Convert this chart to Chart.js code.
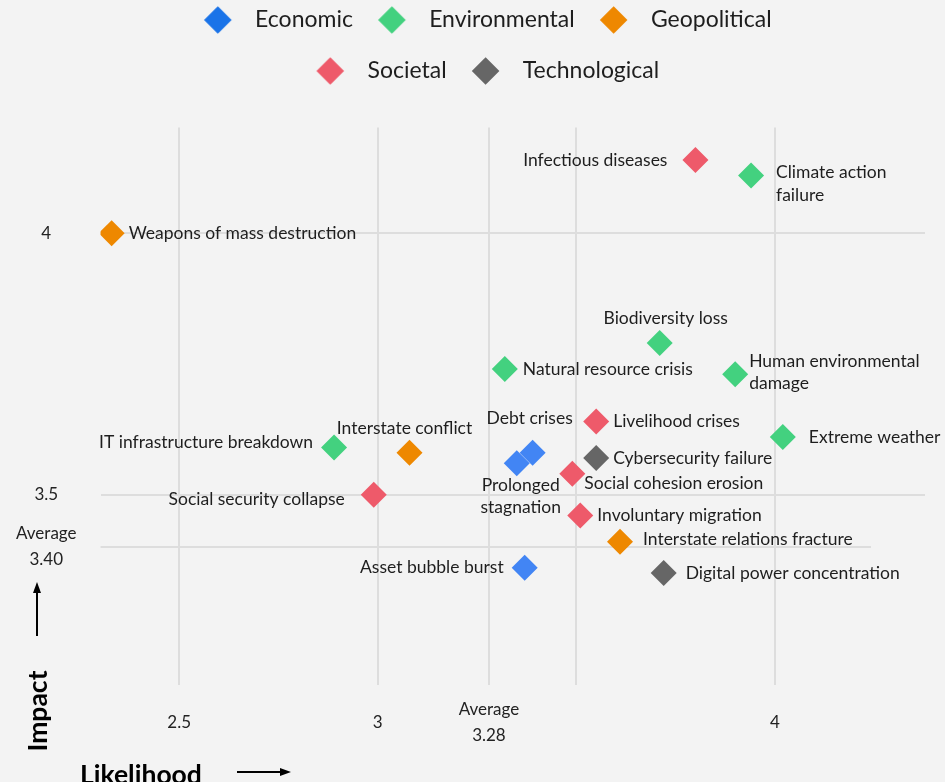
<!DOCTYPE html>
<html lang="en">
<head>
<meta charset="utf-8">
<title>Global risks: likelihood and impact</title>
<script src="https://cdn.jsdelivr.net/npm/chart.js@4.4.1/dist/chart.umd.min.js"></script>
<style>
  html, body { margin: 0; background: #f3f3f3; }
  #box { width: 945px; height: 782px; }
</style>
</head>
<body>
<div id="box"><canvas id="risks" width="945" height="782"></canvas></div>
<script>
// legend order
const categories = ['Economic', 'Environmental', 'Geopolitical', 'Societal', 'Technological'];

const economicRisks = ['Debt crises', 'Prolonged stagnation', 'Asset bubble burst'];
const economicLikelihood = [3.39, 3.35, 3.37];
const economicImpact = [3.58, 3.56, 3.36];

const environmentalRisks = ['Climate action failure', 'Biodiversity loss', 'Natural resource crisis',
  'Human environmental damage', 'Extreme weather', 'IT infrastructure breakdown'];
const environmentalLikelihood = [3.94, 3.71, 3.32, 3.90, 4.02, 2.89];
const environmentalImpact = [4.11, 3.79, 3.74, 3.73, 3.61, 3.59];

const geopoliticalRisks = ['Weapons of mass destruction', 'Interstate conflict', 'Interstate relations fracture'];
const geopoliticalLikelihood = [2.33, 3.08, 3.61];
const geopoliticalImpact = [4.00, 3.58, 3.41];

const societalRisks = ['Infectious diseases', 'Livelihood crises', 'Social cohesion erosion',
  'Social security collapse', 'Involuntary migration'];
const societalLikelihood = [3.80, 3.55, 3.49, 2.99, 3.51];
const societalImpact = [4.14, 3.64, 3.54, 3.50, 3.46];

const technologicalRisks = ['Cybersecurity failure', 'Digital power concentration'];
const technologicalLikelihood = [3.55, 3.72];
const technologicalImpact = [3.57, 3.35];

const xTicks = [2.5, 3, 3.28, 3.5, 4];
const xTickLabels = ['2.5', '3', ['Average', '3.28'], '', '4'];
const yTicks = [3.4, 3.5, 4];
const yTickLabels = [['Average', '3.40'], '3.5', '4'];

const FONT = 'Lato';
const GRID = '#dddddd';
const pointColours = ['#4285f4', '#43d17f', '#ee8800', '#ee5a6a', '#666666'];
const legendColours = ['#1a73e8', '#43d17f', '#ee8800', '#ee5a6a', '#666666'];

// where each label sits relative to its marker: side, dx, dy (first line), wrap onto two lines
const labelPlacement = {
  'Infectious diseases': ['left', -28, 0],
  'Climate action failure': ['right', 25, -3, true],
  'Weapons of mass destruction': ['right', 17, 0],
  'Biodiversity loss': ['center', 6, -25],
  'Natural resource crisis': ['right', 18, 0],
  'Human environmental damage': ['right', 14, -13, true],
  'Livelihood crises': ['right', 17, 0],
  'Extreme weather': ['right', 26, 0],
  'IT infrastructure breakdown': ['left', -21, -5],
  'Interstate conflict': ['center', -5, -24],
  'Debt crises': ['center', -3, -34],
  'Prolonged stagnation': ['center', 4, 22, true],
  'Cybersecurity failure': ['right', 17, 0],
  'Social cohesion erosion': ['right', 12, 10],
  'Social security collapse': ['left', -29, 5],
  'Involuntary migration': ['right', 17, 0],
  'Interstate relations fracture': ['right', 23, -2],
  'Asset bubble burst': ['left', -21, 0],
  'Digital power concentration': ['right', 22, 0]
};

const series = [
  [economicRisks, economicLikelihood, economicImpact],
  [environmentalRisks, environmentalLikelihood, environmentalImpact],
  [geopoliticalRisks, geopoliticalLikelihood, geopoliticalImpact],
  [societalRisks, societalLikelihood, societalImpact],
  [technologicalRisks, technologicalLikelihood, technologicalImpact]
];

// legend diamond, drawn left of the image centre so the text sits further away
function makeSwatch(colour) {
  const c = document.createElement('canvas');
  c.width = 48;
  c.height = 28;
  const g = c.getContext('2d');
  const cx = 16.6, cy = 14, r = 13.8;
  g.fillStyle = colour;
  g.beginPath();
  g.moveTo(cx, cy - r);
  g.lineTo(cx + r, cy);
  g.lineTo(cx, cy + r);
  g.lineTo(cx - r, cy);
  g.closePath();
  g.fill();
  return c;
}
const swatches = legendColours.map(makeSwatch);

// legend: three items on the first row, two on the second, gap below
const legendRows = {
  id: 'legendRows',
  beforeInit(chart) {
    const legend = chart.legend;
    const fit = legend.fit;
    legend.fit = function () {
      const room = this.maxWidth;
      this.maxWidth = 700;
      fit.call(this);
      this.maxWidth = room;
      this.width = room;
      this.lineWidths = this.lineWidths.map(w => w + 47);
      this.height += 35;
    };
  }
};

// the average-impact line stops short of the right edge
const shortAverage = {
  id: 'shortAverage',
  beforeDatasetsDraw(chart) {
    const {ctx, chartArea, scales} = chart;
    const y = scales.y.getPixelForValue(yTicks[0]);
    ctx.save();
    ctx.strokeStyle = GRID;
    ctx.lineWidth = 2;
    ctx.beginPath();
    ctx.moveTo(chartArea.left, y);
    ctx.lineTo(chartArea.right - 54, y);
    ctx.stroke();
    ctx.restore();
  }
};

const riskLabels = {
  id: 'riskLabels',
  afterDatasetsDraw(chart) {
    const ctx = chart.ctx;
    ctx.save();
    ctx.font = `17.5px ${FONT}`;
    ctx.fillStyle = '#1e1e1e';
    ctx.textBaseline = 'middle';
    chart.data.datasets.forEach((ds, i) => {
      chart.getDatasetMeta(i).data.forEach((pt, j) => {
        const name = ds.data[j].risk;
        const [side, dx, dy, wrap] = labelPlacement[name];
        const cut = name.lastIndexOf(' ');
        const lines = wrap ? [name.slice(0, cut), name.slice(cut + 1)] : [name];
        ctx.textAlign = side === 'left' ? 'right' : side === 'right' ? 'left' : 'center';
        lines.forEach((line, k) => ctx.fillText(line, pt.x + dx, pt.y + dy + k * 22.5));
      });
    });
    ctx.restore();
  }
};

function arrow(ctx, x1, y1, x2, y2) {
  const a = Math.atan2(y2 - y1, x2 - x1);
  ctx.beginPath();
  ctx.moveTo(x1, y1);
  ctx.lineTo(x2 - 6 * Math.cos(a), y2 - 6 * Math.sin(a));
  ctx.stroke();
  ctx.beginPath();
  ctx.moveTo(x2, y2);
  ctx.lineTo(x2 - 11 * Math.cos(a) + 4 * Math.sin(a), y2 - 11 * Math.sin(a) - 4 * Math.cos(a));
  ctx.lineTo(x2 - 11 * Math.cos(a) - 4 * Math.sin(a), y2 - 11 * Math.sin(a) + 4 * Math.cos(a));
  ctx.closePath();
  ctx.fill();
}

const axisNotes = {
  id: 'axisNotes',
  afterDraw(chart) {
    const ctx = chart.ctx;
    ctx.save();
    ctx.fillStyle = '#000';
    ctx.strokeStyle = '#000';
    ctx.lineWidth = 2;
    ctx.font = `bold 26.5px ${FONT}`;
    ctx.textBaseline = 'alphabetic';
    ctx.textAlign = 'left';
    ctx.fillText('Likelihood', 80, 784);
    arrow(ctx, 237, 772, 291, 772);
    arrow(ctx, 37, 636, 37, 582);
    ctx.translate(47, 711);
    ctx.rotate(-Math.PI / 2);
    ctx.textAlign = 'center';
    ctx.fillText('Impact', 0, 0);
    ctx.restore();
  }
};

const tickFont = {family: FONT, size: 17, lineHeight: 26 / 17};

new Chart(document.getElementById('risks'), {
  type: 'scatter',
  data: {
    datasets: categories.map((name, i) => ({
      label: name,
      data: series[i][1].map((x, j) => ({x, y: series[i][2][j], risk: series[i][0][j]})),
      backgroundColor: pointColours[i],
      pointStyle: 'rectRot',
      pointRadius: 13,
      pointHoverRadius: 13,
      borderWidth: 0
    }))
  },
  options: {
    responsive: false,
    animation: false,
    devicePixelRatio: 1,
    layout: {padding: {top: -19.5, left: -8, right: 20, bottom: -5}},
    scales: {
      x: {
        min: 2.302,
        max: 4.378,
        afterBuildTicks: axis => { axis.ticks = xTicks.map(v => ({value: v})); },
        ticks: {
          autoSkip: false,
          maxRotation: 0,
          crossAlign: 'center',
          padding: 25,
          color: '#222',
          font: tickFont,
          callback: (v, i) => xTickLabels[i]
        },
        grid: {color: GRID, lineWidth: 2, drawTicks: false},
        border: {display: false}
      },
      y: {
        min: 3.136,
        max: 4.202,
        afterBuildTicks: axis => { axis.ticks = yTicks.map(v => ({value: v})); },
        ticks: {
          autoSkip: false,
          crossAlign: 'center',
          padding: 24,
          color: '#222',
          font: tickFont,
          callback: (v, i) => yTickLabels[i]
        },
        grid: {
          color: c => (c.tick && c.tick.value === yTicks[0] ? 'rgba(0,0,0,0)' : GRID),
          lineWidth: 2,
          drawTicks: false
        },
        border: {display: false}
      }
    },
    plugins: {
      tooltip: {enabled: false},
      legend: {
        position: 'top',
        fullSize: false,
        labels: {
          usePointStyle: true,
          pointStyleWidth: 36.7,
          padding: 28,
          color: '#1e1e1e',
          font: {family: FONT, size: 23},
          generateLabels: chart => Chart.defaults.plugins.legend.labels.generateLabels(chart)
            .map((item, i) => Object.assign(item, {pointStyle: swatches[i]}))
        }
      }
    }
  },
  plugins: [legendRows, shortAverage, riskLabels, axisNotes]
});
</script>
</body>
</html>
